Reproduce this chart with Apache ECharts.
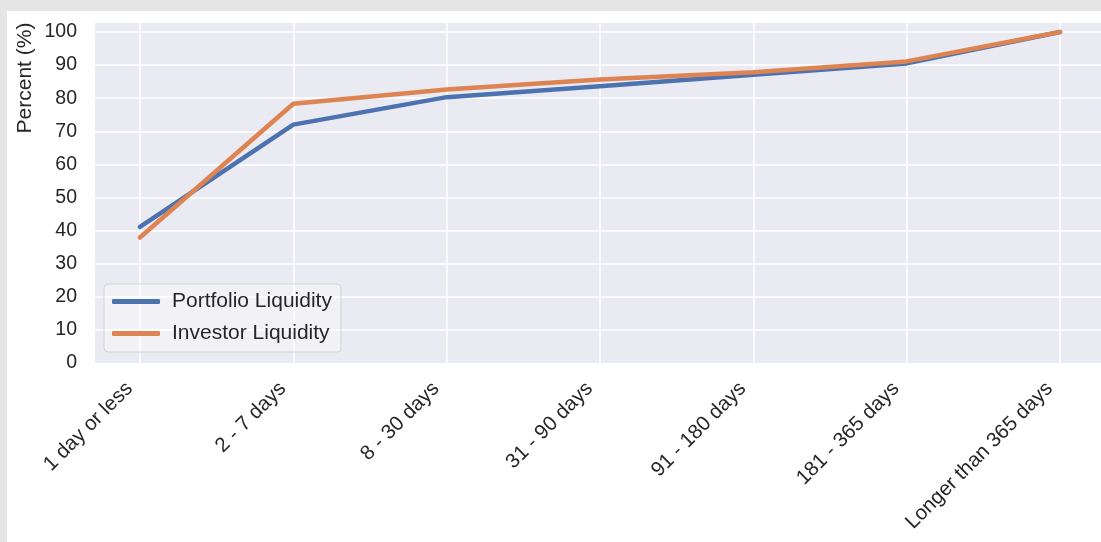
<!DOCTYPE html>
<html>
<head>
<meta charset="utf-8">
<script src="https://cdn.jsdelivr.net/npm/echarts@6/dist/echarts.min.js"></script>
<style>
html,body{margin:0;padding:0;background:#e5e5e5;width:1101px;height:542px;overflow:hidden;}
#c{position:absolute;left:7px;top:11px;width:1094px;height:531px;}
</style>
</head>
<body>
<div id="c"></div>
<script>
const categories = ['1 day or less', '2 - 7 days', '8 - 30 days', '31 - 90 days', '91 - 180 days', '181 - 365 days', 'Longer than 365 days'];
const portfolioLiquidity = [41.1, 72.0, 80.3, 83.6, 87.1, 90.5, 100];
const investorLiquidity = [37.9, 78.3, 82.6, 85.6, 87.8, 91.1, 100];
const yTicks = [0, 10, 20, 30, 40, 50, 60, 70, 80, 90, 100];

const FONT = '"Liberation Sans", Arial, sans-serif';
const TXT = '#262626';
const YMAX = 102.7;

const chart = echarts.init(document.getElementById('c'), null, {renderer: 'canvas'});
chart.setOption({
  backgroundColor: '#ffffff',
  animation: false,
  textStyle: {fontFamily: FONT},
  grid: [
    {left: 88, right: 0, top: 12, bottom: 179, show: true, backgroundColor: '#eaeaf2', borderWidth: 0},
    {left: 133, right: 41, top: 12, bottom: 179}
  ],
  xAxis: [
    {gridIndex: 0, type: 'value', min: 0, max: 1, show: false},
    {gridIndex: 1, type: 'category', data: categories, boundaryGap: false,
     axisLine: {show: false}, axisTick: {show: false},
     splitLine: {show: true, lineStyle: {color: '#ffffff', width: 1.5}},
     axisLabel: {rotate: 45, fontSize: 20.5, color: TXT, fontFamily: FONT, margin: 12, interval: 0,
       padding: [0, 15, 0, 0]}}
  ],
  yAxis: [
    {gridIndex: 0, type: 'value', min: 0, max: YMAX, interval: 10,
     axisLine: {show: false}, axisTick: {show: false},
     splitLine: {show: true, showMinLine: false, showMaxLine: false, lineStyle: {color: '#ffffff', width: 1.5}},
     axisLabel: {fontSize: 19.5, color: TXT, fontFamily: FONT, margin: 18, showMaxLabel: true,
       formatter: function (v) { return yTicks.indexOf(v) >= 0 ? String(v) : ''; }}},
    {gridIndex: 1, type: 'value', min: 0, max: YMAX, show: false}
  ],
  legend: {
    left: 97, top: 273, orient: 'vertical',
    data: ['Portfolio Liquidity', 'Investor Liquidity'],
    backgroundColor: 'rgba(255,255,255,0.35)',
    borderColor: '#d4d4d8', borderWidth: 1, borderRadius: 4,
    padding: [7, 9, 8, 8], itemGap: 11,
    itemWidth: 48, itemHeight: 5, icon: 'roundRect',
    textStyle: {fontSize: 21, color: TXT, fontFamily: FONT, padding: [0, 0, 0, 7]}
  },
  graphic: [
    {type: 'text', x: 18, y: 67, rotation: Math.PI / 2,
     style: {text: 'Percent (%)', fontSize: 21, fontFamily: FONT, fill: TXT, align: 'center', verticalAlign: 'middle'}}
  ],
  series: [
    {name: 'Portfolio Liquidity', type: 'line', xAxisIndex: 1, yAxisIndex: 1, data: portfolioLiquidity,
     showSymbol: false, symbol: 'none', color: '#4c72b0',
     lineStyle: {width: 4.5, color: '#4c72b0', cap: 'round', join: 'round'}},
    {name: 'Investor Liquidity', type: 'line', xAxisIndex: 1, yAxisIndex: 1, data: investorLiquidity,
     showSymbol: false, symbol: 'none', color: '#dd8452',
     lineStyle: {width: 4.5, color: '#dd8452', cap: 'round', join: 'round'}}
  ]
});
</script>
</body>
</html>
